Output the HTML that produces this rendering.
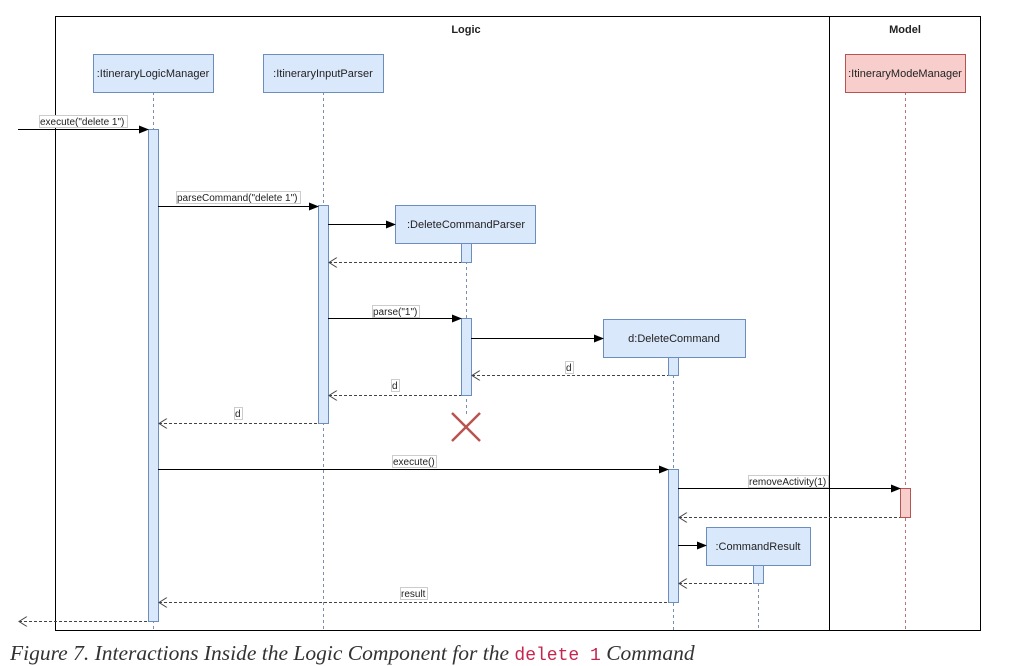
<!DOCTYPE html>
<html><head><style>
body{margin:0;background:#fff;width:1023px;height:666px;overflow:hidden}
svg text{font-family:"Liberation Sans",Arial,sans-serif;font-size:11px;fill:#222}
.cap{position:absolute;left:10px;top:641px;font-family:"Liberation Serif",serif;font-style:italic;font-size:21.5px;color:#333;white-space:nowrap}
.cap code{font-family:"Liberation Mono",monospace;font-style:normal;color:#c7254e;font-size:18px}
</style></head><body>
<svg width="1023" height="640" style="position:absolute;left:0;top:0">
<defs>
<marker id="f" markerWidth="10" markerHeight="8" refX="9" refY="4" orient="auto" markerUnits="userSpaceOnUse"><path d="M0,0 L10,4 L0,8 z" fill="#000"/></marker>
<marker id="o" markerWidth="10" markerHeight="10" refX="1" refY="5" orient="auto" markerUnits="userSpaceOnUse"><path d="M9,0 L1,5 L9,10" fill="none" stroke="#444" stroke-width="1"/></marker>
</defs>
<rect x="55.5" y="16.5" width="925" height="614" fill="none" stroke="#000"/>
<line x1="829.5" y1="16" x2="829.5" y2="631" stroke="#000"/>
<text x="466" y="33" text-anchor="middle" style="font-weight:bold">Logic</text>
<text x="905" y="33" text-anchor="middle" style="font-weight:bold">Model</text>
<g stroke-dasharray="3,3" stroke-width="1">
<line x1="153.5" y1="92" x2="153.5" y2="630" stroke="#7a8fb0"/>
<line x1="323.5" y1="92" x2="323.5" y2="630" stroke="#7a8fb0"/>
<line x1="466.5" y1="243" x2="466.5" y2="415" stroke="#7a8fb0"/>
<line x1="673.5" y1="357" x2="673.5" y2="630" stroke="#7a8fb0"/>
<line x1="758.5" y1="565" x2="758.5" y2="630" stroke="#7a8fb0"/>
<line x1="905.5" y1="92" x2="905.5" y2="630" stroke="#c07070"/>
</g>
<g fill="#dae8fc" stroke="#6c8ebf">
<rect x="93.5" y="54.5" width="120" height="38"/>
<rect x="263.5" y="54.5" width="120" height="38"/>
<rect x="395.5" y="205.5" width="140" height="38"/>
<rect x="603.5" y="319.5" width="142" height="38"/>
<rect x="706.5" y="527.5" width="104" height="38"/>
<rect x="148.5" y="129.5" width="10" height="492"/>
<rect x="318.5" y="205.5" width="10" height="218"/>
<rect x="461.5" y="243.5" width="10" height="19"/>
<rect x="461.5" y="318.5" width="10" height="77"/>
<rect x="668.5" y="357.5" width="10" height="18"/>
<rect x="668.5" y="469.5" width="10" height="133"/>
<rect x="753.5" y="565.5" width="10" height="18"/>
</g>
<rect x="845.5" y="54.5" width="120" height="38" fill="#f8cecc" stroke="#b85450"/>
<rect x="900.5" y="488.5" width="10" height="29" fill="#f8cecc" stroke="#b85450"/>
<g text-anchor="middle">
<text x="153" y="77">:ItineraryLogicManager</text>
<text x="323" y="77">:ItineraryInputParser</text>
<text x="466" y="228">:DeleteCommandParser</text>
<text x="674" y="342">d:DeleteCommand</text>
<text x="758" y="550">:CommandResult</text>
<text x="905" y="77">:ItineraryModeManager</text>
</g>
<g stroke="#000" stroke-width="1" marker-end="url(#f)">
<line x1="18" y1="129.5" x2="148" y2="129.5"/>
<line x1="158" y1="206.5" x2="318" y2="206.5"/>
<line x1="328" y1="224.5" x2="395" y2="224.5"/>
<line x1="328" y1="318.5" x2="461" y2="318.5"/>
<line x1="471" y1="338.5" x2="603" y2="338.5"/>
<line x1="158" y1="469.5" x2="668" y2="469.5"/>
<line x1="678" y1="488.5" x2="900" y2="488.5"/>
<line x1="678" y1="545.5" x2="706" y2="545.5"/>
</g>
<g stroke="#444" stroke-width="1" stroke-dasharray="3,2" marker-start="url(#o)" fill="none">
<line x1="329" y1="262.5" x2="461" y2="262.5"/>
<line x1="472" y1="375.5" x2="668" y2="375.5"/>
<line x1="329" y1="395.5" x2="461" y2="395.5"/>
<line x1="159" y1="423.5" x2="318" y2="423.5"/>
<line x1="679" y1="517.5" x2="900" y2="517.5"/>
<line x1="679" y1="583.5" x2="753" y2="583.5"/>
<line x1="159" y1="602.5" x2="668" y2="602.5"/>
<line x1="19" y1="621.5" x2="148" y2="621.5"/>
</g>
<g>
<rect x="39.5" y="115.5" width="88" height="12" fill="#fff" stroke="#ccc"/><text x="40" y="125" style="font-size:10px">execute("delete 1")</text>
<rect x="176.5" y="191.5" width="124" height="12" fill="#fff" stroke="#ccc"/><text x="177" y="201" style="font-size:10px">parseCommand("delete 1")</text>
<rect x="372.5" y="305.5" width="47" height="12" fill="#fff" stroke="#ccc"/><text x="373" y="315" style="font-size:10px">parse("1")</text>
<rect x="565.5" y="361.5" width="8" height="12" fill="#fff" stroke="#ccc"/><text x="566" y="371" style="font-size:10px">d</text>
<rect x="391.5" y="379.5" width="8" height="12" fill="#fff" stroke="#ccc"/><text x="392" y="389" style="font-size:10px">d</text>
<rect x="234.5" y="407.5" width="8" height="12" fill="#fff" stroke="#ccc"/><text x="235" y="417" style="font-size:10px">d</text>
<rect x="392.5" y="455.5" width="44" height="12" fill="#fff" stroke="#ccc"/><text x="393" y="465" style="font-size:10px">execute()</text>
<rect x="748.5" y="475.5" width="80" height="12" fill="#fff" stroke="#ccc"/><text x="749" y="485" style="font-size:10px">removeActivity(1)</text>
<rect x="400.5" y="587.5" width="27" height="12" fill="#fff" stroke="#ccc"/><text x="401" y="597" style="font-size:10px">result</text>
</g>
<g stroke="#b85450" stroke-width="2.5">
<line x1="452" y1="413" x2="480" y2="441"/>
<line x1="480" y1="413" x2="452" y2="441"/>
</g>
</svg>
<div class="cap">Figure 7. Interactions Inside the Logic Component for the <code>delete 1</code> Command</div>
</body></html>
